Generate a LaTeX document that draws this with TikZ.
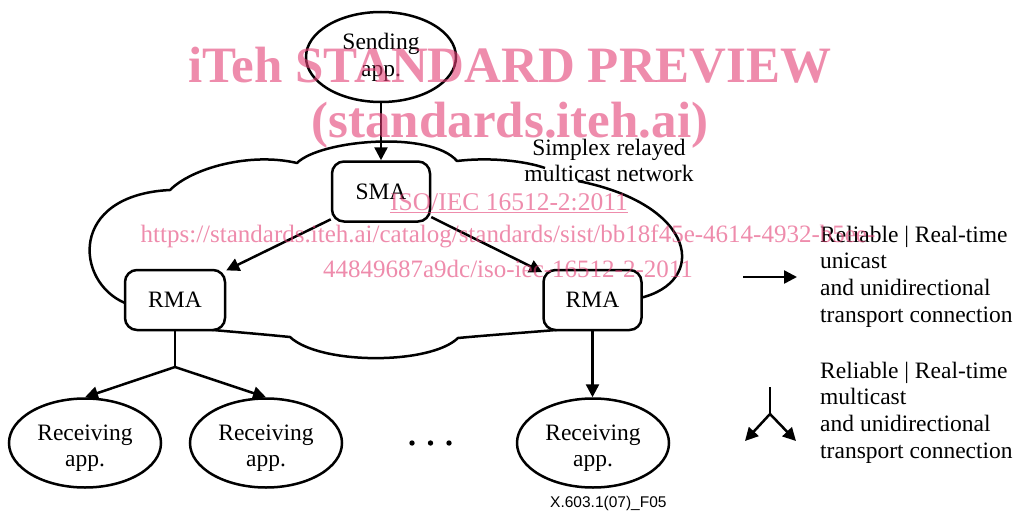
\documentclass[tikz,border=0pt]{standalone}
\usepackage{fontspec}
\setmainfont{Liberation Serif}
\newfontfamily\capfont{Liberation Sans}
\usetikzlibrary{arrows.meta,shapes.geometric,calc}
\definecolor{wmpink}{RGB}{227,63,117}
% stacked lines whose first baseline is the box baseline
\newcommand{\linesl}[1]{\begin{tabular}[t]{@{}l@{}}#1\end{tabular}}
\newcommand{\linesc}[1]{\begin{tabular}[t]{@{}c@{}}#1\end{tabular}}

\begin{document}
\begin{tikzpicture}[x=1pt,y=-1pt,
  lw/.style={line width=2.5pt},
  tip/.style={-{Triangle[length=13pt,width=13pt]}},
  agent/.style={draw, lw, rounded corners=12pt, fill=white,
    minimum width=98pt, minimum height=60pt, inner sep=0pt},
  app/.style={draw, lw, ellipse, minimum width=152pt,
    minimum height=89pt, inner sep=0pt},
  body/.style={font=\fontsize{23.5}{26.8}\selectfont},
  lbl/.style={body, anchor=base, inner sep=0pt},
  wm/.style={text=wmpink, text opacity=0.6, inner sep=0pt, anchor=base}
]
\useasboundingbox (0,0) rectangle (1017,511);

% the relaying network cloud
\draw[lw, line join=round]
  (125,303) .. controls (75,282) and (68,195) .. (170,190)
  .. controls (192,168) and (250,152) .. (297,163)
  .. controls (320,140) and (430,130) .. (457,161)
  .. controls (490,157) and (525,161) .. (545,168)
  (578,181) .. controls (698,205) and (708,282) .. (640,298)
  -- (556,330)
  .. controls (520,333) and (490,335) .. (458,338)
  .. controls (430,365) and (320,365) .. (290,337)
  .. controls (260,334) and (235,332) .. (213,330)
  -- (125,303);
\node[lbl] (cloudlbl) at (609,155)
  {\linesc{Simplex relayed\\multicast network}};

% agents and applications
\node[app, minimum width=150pt, minimum height=90pt] (send) at (381,57) {};
\node[lbl] at (381,50) {\linesc{Sending\\app.}};
\node[agent, body] (sma) at (381,191.5) {SMA};
\node[agent, body, minimum width=100pt] (rmaL) at (175,300) {RMA};
\node[agent, body] (rmaR) at (592.5,300) {RMA};

\node[app] (recvL) at (85,443) {};
\node[app] (recvM) at (266,443) {};
\node[app] (recvR) at (593,443) {};
\node[lbl] at (85,440) {\linesc{Receiving\\app.}};
\node[lbl] at (266,440) {\linesc{Receiving\\app.}};
\node[lbl] at (593,440) {\linesc{Receiving\\app.}};

\foreach \dx in {412,430.5,449} \fill (\dx,443) circle (2.7pt);

% connections
\draw[lw, tip] (send) -- (sma);
\draw[lw, tip] (sma.209) -- (rmaL.30);
\draw[lw, tip] (sma.-27) -- (rmaR.151);
\coordinate (fork) at (175,367);
\draw[lw] (rmaL.south) -- (fork);
\draw[lw, tip] (fork) -- (recvL.north);
\draw[lw, tip] (fork) -- (recvM.north);
\draw[lw, tip] (rmaR.south) -- (rmaR.south |- recvR.north);

% legend
\coordinate (uniA) at (743,277);
\coordinate (uniB) at (797,277);
\draw[lw, tip] (uniA) -- (uniB);
\node[body, anchor=base west, inner sep=0pt] at (820,242)
  {\linesl{Reliable | Real-time\\unicast\\and unidirectional\\transport connection}};

\coordinate (mcTop) at (770,387);
\coordinate (mcFork) at (770,414);
\coordinate (mcL) at (745,441);
\coordinate (mcR) at (796,441);
\draw[lw] (mcTop) -- (mcFork);
\draw[lw, tip] (mcFork) -- (mcL);
\draw[lw, tip] (mcFork) -- (mcR);
\node[body, anchor=base west, inner sep=0pt] at (820,378)
  {\linesl{Reliable | Real-time\\multicast\\and unidirectional\\transport connection}};

\node[font=\capfont\fontsize{15.5}{18}\selectfont, anchor=base west, inner sep=0pt]
  at (550,507) {X.603.1(07)\_F05};

% preview stamp
\node[wm, font=\fontsize{51}{51}\selectfont\bfseries] at (510,82) {iTeh STANDARD PREVIEW};
\node[wm, font=\fontsize{51}{51}\selectfont\bfseries] at (510,137) {(standards.iteh.ai)};
\node[wm, font=\fontsize{25.5}{25.5}\selectfont] at (509,210) {\underline{ISO/IEC 16512-2:2011}};
\node[wm, font=\fontsize{25}{35}\selectfont] at (508,242)
  {\linesc{https://standards.iteh.ai/catalog/standards/sist/bb18f45e-4614-4932-b5ee-\\44849687a9dc/iso-iec-16512-2-2011}};
\end{tikzpicture}
\end{document}
